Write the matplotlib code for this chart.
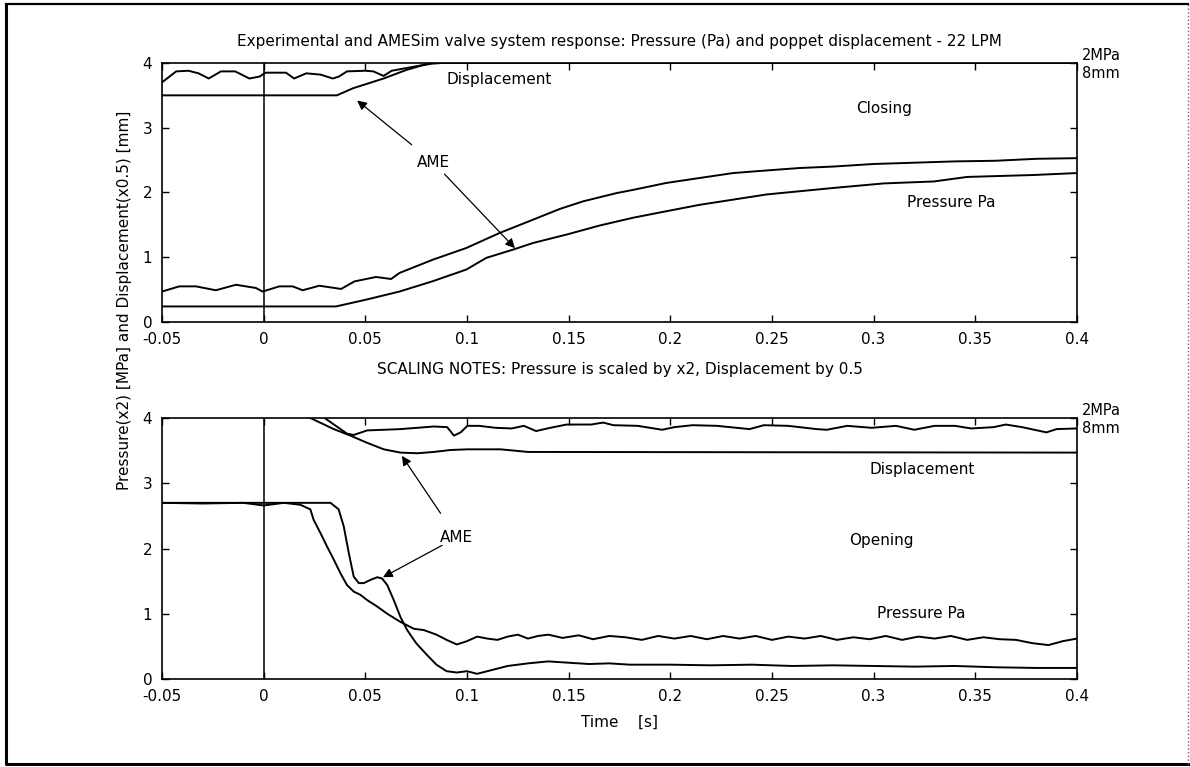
import matplotlib
matplotlib.use("Agg")
import matplotlib.pyplot as plt
from matplotlib.lines import Line2D

plt.rcParams['font.family'] = ['DejaVu Sans']
plt.rcParams['font.size'] = 11

x_ticks = [-0.05, 0, 0.05, 0.1, 0.15, 0.2, 0.25, 0.3, 0.35, 0.4]
x_labels = ['-0.05', '0', '0.05', '0.1', '0.15', '0.2', '0.25', '0.3', '0.35', '0.4']
y_ticks = [0, 1, 2, 3, 4]

# ---- closing (top panel) ----
close_exp_disp_t = [-0.05, -0.043, -0.037, -0.032, -0.027, -0.021, -0.014, -0.007, -0.002, 0.001,
                    0.011, 0.015, 0.021, 0.028, 0.034, 0.037, 0.041, 0.050, 0.054, 0.059, 0.063,
                    0.070, 0.077, 0.083, 0.088, 0.4]
close_exp_disp = [3.70, 3.87, 3.88, 3.84, 3.76, 3.87, 3.87, 3.76, 3.79, 3.85,
                  3.85, 3.76, 3.84, 3.82, 3.76, 3.79, 3.87, 3.88, 3.87, 3.80, 3.88,
                  3.92, 3.96, 3.99, 4.0, 4.0]

close_ame_disp_t = [-0.05, 0.036, 0.044, 0.059, 0.070, 0.082, 0.4]
close_ame_disp = [3.5, 3.5, 3.61, 3.76, 3.89, 4.0, 4.0]

close_exp_pres_t = [-0.05, -0.0415, -0.0333, -0.0235, -0.0136, -0.0038, -0.0005, 0.0077, 0.0143,
                    0.0192, 0.0274, 0.0381, 0.0447, 0.0553, 0.0627, 0.0668, 0.0832, 0.0997, 0.116,
                    0.1325, 0.1456, 0.1571, 0.1735, 0.1817, 0.198, 0.2145, 0.2309, 0.2473, 0.2637,
                    0.28, 0.30, 0.32, 0.34, 0.36, 0.38, 0.40]
close_exp_pres = [0.47, 0.55, 0.55, 0.49, 0.575, 0.525, 0.47, 0.55, 0.55,
                  0.49, 0.56, 0.51, 0.627, 0.695, 0.664, 0.757, 0.962, 1.143, 1.374,
                  1.58, 1.745, 1.863, 1.99, 2.04, 2.147, 2.224, 2.30, 2.34, 2.378,
                  2.40, 2.44, 2.46, 2.48, 2.49, 2.52, 2.53]

close_ame_pres_t = [-0.05, 0.0356, 0.0504, 0.0668, 0.0832, 0.0997, 0.1095, 0.1226, 0.1325, 0.149,
                    0.1653, 0.1817, 0.198, 0.2145, 0.2475, 0.2803, 0.305, 0.3296, 0.346, 0.3788, 0.40]
close_ame_pres = [0.24, 0.24, 0.345, 0.47, 0.63, 0.81, 0.99, 1.117, 1.22, 1.35,
                  1.49, 1.61, 1.71, 1.81, 1.97, 2.07, 2.14, 2.17, 2.24, 2.27, 2.30]

# ---- opening (bottom panel) ----
open_exp_disp_t = [0.030, 0.0378, 0.041, 0.0443, 0.0509, 0.0673, 0.0837, 0.0903, 0.0936, 0.0969,
                   0.1002, 0.106, 0.114, 0.122, 0.128, 0.134, 0.141, 0.149, 0.161, 0.167, 0.172,
                   0.184, 0.196, 0.202, 0.211, 0.223, 0.239, 0.246, 0.258, 0.272, 0.277, 0.287,
                   0.299, 0.311, 0.320, 0.330, 0.340, 0.348, 0.359, 0.365, 0.373, 0.385, 0.390, 0.40]
open_exp_disp = [4.0, 3.83, 3.76, 3.74, 3.81, 3.83, 3.87, 3.86, 3.73, 3.78,
                 3.88, 3.88, 3.85, 3.84, 3.88, 3.80, 3.85, 3.90, 3.90, 3.93, 3.89,
                 3.88, 3.82, 3.86, 3.89, 3.88, 3.83, 3.89, 3.88, 3.83, 3.82, 3.88,
                 3.85, 3.88, 3.82, 3.88, 3.88, 3.84, 3.86, 3.90, 3.86, 3.78, 3.83, 3.84]

open_ame_disp_t = [0.023, 0.0345, 0.0427, 0.0509, 0.0591, 0.0673, 0.0756, 0.0837, 0.092, 0.1002,
                   0.1166, 0.13, 0.4]
open_ame_disp = [4.0, 3.83, 3.73, 3.62, 3.52, 3.47, 3.46, 3.48, 3.51, 3.52,
                 3.52, 3.48, 3.47]

open_ame_pres_t = [-0.05, 0.0329, 0.0369, 0.0394, 0.0419, 0.0443, 0.0468, 0.0493, 0.0526, 0.0559,
                   0.0583, 0.0608, 0.064, 0.0673, 0.0706, 0.075, 0.08, 0.085, 0.09, 0.095, 0.1,
                   0.105, 0.11, 0.12, 0.13, 0.14, 0.15, 0.16, 0.17, 0.18, 0.2, 0.22, 0.24, 0.26,
                   0.28, 0.3, 0.32, 0.34, 0.36, 0.38, 0.4]
open_ame_pres = [2.70, 2.70, 2.60, 2.34, 1.93, 1.57, 1.47, 1.47, 1.52, 1.56,
                 1.54, 1.44, 1.21, 0.95, 0.75, 0.55, 0.38, 0.22, 0.12, 0.10, 0.12,
                 0.08, 0.12, 0.20, 0.24, 0.27, 0.25, 0.23, 0.24, 0.22, 0.22, 0.21, 0.22, 0.20,
                 0.21, 0.20, 0.19, 0.20, 0.18, 0.17, 0.17]

open_exp_pres_t = [-0.05, -0.03, -0.01, 0.0, 0.01, 0.0181, 0.023, 0.0246, 0.0279, 0.0312, 0.0345,
                   0.0378, 0.041, 0.0443, 0.0476, 0.0509, 0.0559, 0.0608, 0.0673, 0.0739, 0.0788,
                   0.085, 0.09, 0.095, 0.1, 0.105, 0.11, 0.115, 0.12, 0.125, 0.13, 0.135, 0.14,
                   0.147, 0.155, 0.162, 0.17, 0.178, 0.186, 0.194, 0.202, 0.21, 0.218, 0.226,
                   0.234, 0.242, 0.25, 0.258, 0.266, 0.274, 0.282, 0.29, 0.298, 0.306, 0.314,
                   0.322, 0.33, 0.338, 0.346, 0.354, 0.362, 0.37, 0.378, 0.386, 0.393, 0.4]
open_exp_pres = [2.70, 2.69, 2.70, 2.66, 2.70, 2.67, 2.60, 2.44, 2.24, 2.03, 1.83,
                 1.62, 1.44, 1.34, 1.29, 1.21, 1.11, 1.00, 0.875, 0.77, 0.75,
                 0.68, 0.60, 0.53, 0.58, 0.65, 0.62, 0.60, 0.65, 0.68, 0.62, 0.66, 0.68,
                 0.63, 0.67, 0.61, 0.66, 0.64, 0.60, 0.66, 0.62, 0.66, 0.61, 0.66,
                 0.62, 0.66, 0.60, 0.65, 0.62, 0.66, 0.60, 0.64, 0.61, 0.66, 0.60,
                 0.65, 0.62, 0.66, 0.60, 0.64, 0.61, 0.60, 0.55, 0.52, 0.58, 0.62]

fig = plt.figure(figsize=(11.9, 7.67), dpi=100)

# outer frame of the scanned page
fig.add_artist(Line2D([0.005, 0.005, 0.998], [0.995, 0.004, 0.004], transform=fig.transFigure,
                      color='k', lw=2.2))
fig.add_artist(Line2D([0.005, 0.998], [0.995, 0.995], transform=fig.transFigure, color='k', lw=1.6))
fig.add_artist(Line2D([0.998, 0.998], [0.004, 0.995], transform=fig.transFigure, color='0.4',
                      lw=1, ls=':'))

ax1 = fig.add_axes([0.1361, 0.5802, 0.7689, 0.3377])
ax2 = fig.add_axes([0.1361, 0.1147, 0.7689, 0.3403])

lw = 1.4
ax1.plot(close_exp_disp_t, close_exp_disp, color='k', lw=lw)
ax1.plot(close_ame_disp_t, close_ame_disp, color='k', lw=lw)
ax1.plot(close_exp_pres_t, close_exp_pres, color='k', lw=lw)
ax1.plot(close_ame_pres_t, close_ame_pres, color='k', lw=lw)

ax2.plot(open_exp_disp_t, open_exp_disp, color='k', lw=lw)
ax2.plot(open_ame_disp_t, open_ame_disp, color='k', lw=lw)
ax2.plot(open_ame_pres_t, open_ame_pres, color='k', lw=lw)
ax2.plot(open_exp_pres_t, open_exp_pres, color='k', lw=lw)

for ax in (ax1, ax2):
    ax.set_xlim(-0.05, 0.4)
    ax.set_ylim(0, 4)
    ax.set_xticks(x_ticks)
    ax.set_xticklabels(x_labels)
    ax.set_yticks(y_ticks)
    ax.axvline(0, color='k', lw=1.1)
    ax.tick_params(direction='in', top=True, right=True, length=5, width=1,
                   labelsize=11, pad=7)
    for s in ax.spines.values():
        s.set_linewidth(1.2)
    ax.text(1.005, 1.0, '2MPa', transform=ax.transAxes, ha='left', va='bottom', fontsize=10.5)
    ax.text(1.005, 0.99, '8mm', transform=ax.transAxes, ha='left', va='top', fontsize=10.5)

ax1.set_title('Experimental and AMESim valve system response: Pressure (Pa) and poppet displacement - 22 LPM',
              fontsize=11, pad=12)
ax1.text(0.116, 3.74, 'Displacement', ha='center', va='center')
ax1.text(0.305, 3.30, 'Closing', ha='center', va='center')
ax1.text(0.338, 1.85, 'Pressure Pa', ha='center', va='center')
ax1.annotate('AME', xy=(0.046, 3.42), xytext=(0.0833, 2.47), ha='center', va='center',
             arrowprops=dict(arrowstyle='-|>', color='k', lw=0.9, mutation_scale=14, shrinkA=8, shrinkB=0))
ax1.annotate('', xy=(0.1236, 1.14), xytext=(0.0833, 2.47),
             arrowprops=dict(arrowstyle='-|>', color='k', lw=0.9, mutation_scale=14, shrinkA=12, shrinkB=0))

ax1.text(0.5, -0.155, 'SCALING NOTES: Pressure is scaled by x2, Displacement by 0.5',
         transform=ax1.transAxes, ha='center', va='top', fontsize=11)

ax2.text(0.324, 3.21, 'Displacement', ha='center', va='center')
ax2.text(0.304, 2.12, 'Opening', ha='center', va='center')
ax2.text(0.3235, 1.00, 'Pressure Pa', ha='center', va='center')
ax2.annotate('AME', xy=(0.068, 3.42), xytext=(0.095, 2.17), ha='center', va='center',
             arrowprops=dict(arrowstyle='-|>', color='k', lw=0.9, mutation_scale=14, shrinkA=12, shrinkB=0))
ax2.annotate('', xy=(0.0587, 1.56), xytext=(0.095, 2.17),
             arrowprops=dict(arrowstyle='-|>', color='k', lw=0.9, mutation_scale=14, shrinkA=12, shrinkB=0))
ax2.set_xlabel('Time    [s]', fontsize=11, labelpad=8)

fig.text(0.105, 1 - 300 / 767, 'Pressure(x2) [MPa] and Displacement(x0.5) [mm]',
         rotation=90, ha='center', va='center', fontsize=11)

fig.savefig('out.png', dpi=100)
